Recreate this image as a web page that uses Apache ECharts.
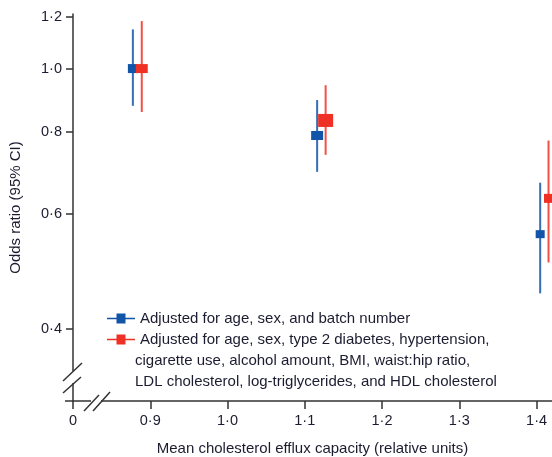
<!DOCTYPE html>
<html>
<head>
<meta charset="utf-8">
<script src="https://cdn.jsdelivr.net/npm/echarts@6/dist/echarts.min.js"></script>
<style>
  html, body { margin: 0; padding: 0; background: #fff; }
  #chart { width: 552px; height: 457px; }
</style>
</head>
<body>
<div id="chart"></div>
<script>
// efflux capacity (x) for each model, odds ratio with 95% CI (log y axis)
const basicX = [0.8775, 1.116, 1.4047]
const basicOR = [1.0, 0.79, 0.558]
const basicLow = [0.877, 0.695, 0.453]
const basicHigh = [1.148, 0.895, 0.669]

const fullX = [0.889, 1.127, 1.4155]
const fullOR = [1.0, 0.833, 0.633]
const fullLow = [0.858, 0.738, 0.505]
const fullHigh = [1.182, 0.943, 0.776]

// square sizes [w, h] as drawn in the figure
const basicSize = [[10, 9], [12, 9], [9, 8]]
const fullSize = [[12, 9], [15, 13], [9, 9]]

const yTicks = [0.4, 0.6, 0.8, 1.0, 1.2]
const xTicks = [0.8, 0.9, 1.0, 1.1, 1.2, 1.3, 1.4]

const basicName = 'Adjusted for age, sex, and batch number'
const fullName = 'Adjusted for age, sex, type 2 diabetes, hypertension,'
const fullNameMore = [
  'cigarette use, alcohol amount, BMI, waist:hip ratio,',
  'LDL cholesterol, log-triglycerides, and HDL cholesterol'
]

const BLUE = '#1255a8'
const RED = '#ee3124'
const FONT = 'Liberation Sans'
const TXT = '#1c1c30'

const legendIcon = 'path://M0,4.3H28V5.7H0Z M9.5,0H18.5V10H9.5Z'

const dot = v => v.toFixed(1).replace('.', '·')

const errorSeries = (name, xs, lo, hi, color) => ({
  name,
  type: 'custom',
  itemStyle: { color },
  data: xs.map((x, i) => [x, lo[i], hi[i]]),
  renderItem: (params, api) => {
    const a = api.coord([api.value(0), api.value(1)])
    const b = api.coord([api.value(0), api.value(2)])
    return {
      type: 'line',
      shape: { x1: a[0], y1: a[1], x2: b[0], y2: b[1] },
      style: { stroke: color, lineWidth: 2, opacity: 0.85 }
    }
  },
  z: 2
})

const pointSeries = (name, xs, ys, sizes, color) => ({
  name,
  type: 'scatter',
  symbol: 'rect',
  data: xs.map((x, i) => ({ value: [x, ys[i]], symbolSize: sizes[i] })),
  itemStyle: { color, opacity: 1 },
  z: 3
})

const chart = echarts.init(document.getElementById('chart'))

chart.setOption({
  animation: false,
  textStyle: { fontFamily: FONT },
  grid: { left: 73, right: 0, top: 14, bottom: 56, containLabel: false, outerBoundsMode: 'none' },
  legend: {
    orient: 'vertical',
    left: 102,
    top: 306,
    itemWidth: 28,
    itemHeight: 10,
    itemGap: 6,
    textStyle: { fontFamily: FONT, fontSize: 15, color: TXT },
    data: [
      { name: basicName, icon: legendIcon, itemStyle: { color: BLUE } },
      { name: fullName, icon: legendIcon, itemStyle: { color: RED } }
    ]
  },
  xAxis: {
    type: 'value',
    min: 0.8,
    max: 1.42,
    interval: 0.1,
    splitLine: { show: false },
    axisLine: { lineStyle: { color: '#333', width: 1.5 } },
    axisTick: { length: 8, lineStyle: { color: '#333', width: 1.5 }, customValues: xTicks },
    axisLabel: {
      customValues: xTicks,
      formatter: v => Math.abs(v - 0.8) < 1e-6 ? '0' : dot(v),
      color: TXT, fontSize: 14.5, fontFamily: FONT, margin: 12
    },
    name: 'Mean cholesterol efflux capacity (relative units)',
    nameLocation: 'middle',
    nameGap: 40,
    nameTextStyle: { color: TXT, fontSize: 15, fontFamily: FONT }
  },
  yAxis: {
    type: 'log',
    min: 0.31,
    max: 1.212,
    splitLine: { show: false },
    axisLine: { lineStyle: { color: '#333', width: 1.5 } },
    axisTick: { length: 7, lineStyle: { color: '#333', width: 1.5 }, customValues: yTicks },
    axisLabel: {
      customValues: yTicks,
      formatter: v => dot(v),
      color: TXT, fontSize: 14.5, fontFamily: FONT, margin: 11
    },
    name: 'Odds ratio (95% CI)',
    nameLocation: 'middle',
    nameGap: 50,
    nameTextStyle: { color: TXT, fontSize: 15, fontFamily: FONT }
  },
  series: [
    errorSeries(basicName, basicX, basicLow, basicHigh, BLUE),
    errorSeries(fullName, fullX, fullLow, fullHigh, RED),
    pointSeries(basicName, basicX, basicOR, basicSize, BLUE),
    pointSeries(fullName, fullX, fullOR, fullSize, RED)
  ],
  graphic: [
    // continuation of the second legend label
    { type: 'text', left: 135, top: 350, style: { text: fullNameMore.join('\n'), font: '15px ' + FONT, fill: TXT, lineHeight: 21 } },
    // axis breaks
    { type: 'rect', shape: { x: 68, y: 371, width: 9, height: 12 }, style: { fill: '#fff' }, z: 10 },
    { type: 'line', shape: { x1: 63, y1: 381, x2: 82, y2: 363 }, style: { stroke: '#333', lineWidth: 1.5 }, z: 11 },
    { type: 'line', shape: { x1: 63, y1: 393, x2: 81, y2: 377 }, style: { stroke: '#333', lineWidth: 1.5 }, z: 11 },
    { type: 'rect', shape: { x: 91, y: 398, width: 10, height: 7 }, style: { fill: '#fff' }, z: 10 },
    { type: 'line', shape: { x1: 84, y1: 411, x2: 99, y2: 395 }, style: { stroke: '#333', lineWidth: 1.5 }, z: 11 },
    { type: 'line', shape: { x1: 93, y1: 411, x2: 110, y2: 392 }, style: { stroke: '#333', lineWidth: 1.5 }, z: 11 },
    { type: 'line', shape: { x1: 65, y1: 401, x2: 73, y2: 401 }, style: { stroke: '#333', lineWidth: 1.5 }, z: 11 }
  ]
})
</script>
</body>
</html>
